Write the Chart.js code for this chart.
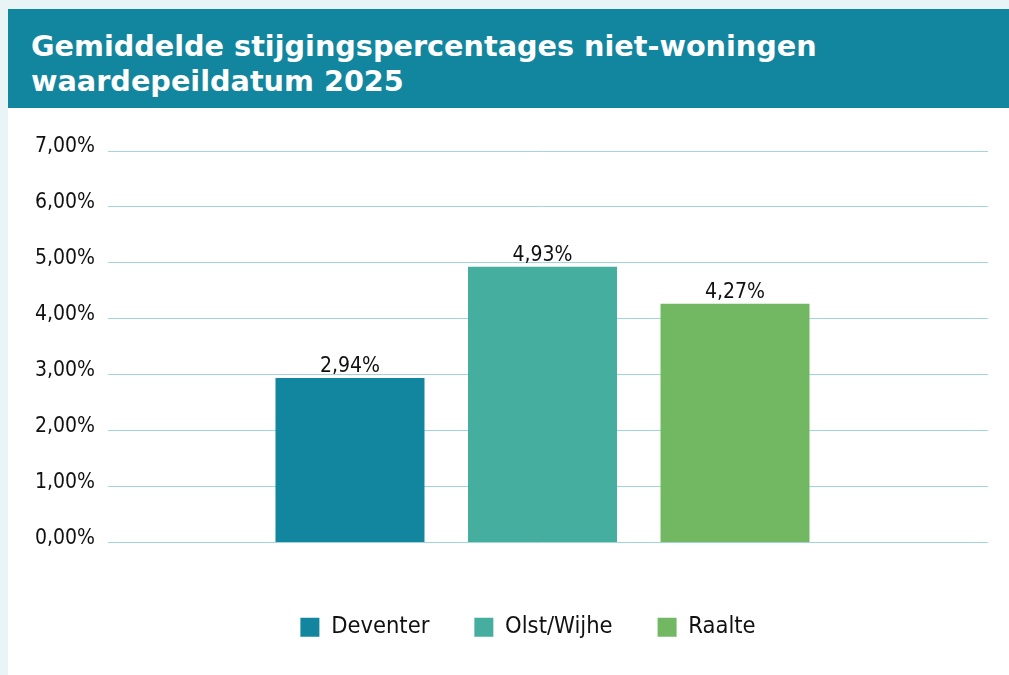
<!DOCTYPE html>
<html>
<head>
<meta charset="utf-8">
<script src="https://cdn.jsdelivr.net/npm/chart.js@4/dist/chart.umd.min.js"></script>
<style>
  body { margin: 0; background: #e9f4f6; width: 1009px; height: 675px; overflow: hidden; }
  #title {
    position: absolute; left: 8px; top: 9px; width: 978px; height: 79px;
    padding: 20px 0 0 23px; background: #12869e; color: #fff;
    font-family: "DejaVu Sans", sans-serif; font-weight: bold; font-size: 28.7px; line-height: 35px;
  }
  #wrap { position: absolute; left: 8px; top: 108px; width: 1001px; height: 567px; background: #fff; }
</style>
</head>
<body>
<div id="title">Gemiddelde stijgingspercentages niet-woningen<br>waardepeildatum 2025</div>
<div id="wrap"><canvas id="chart" width="1001" height="567"></canvas></div>
<script>
  // Data
  const municipalities = ["Deventer", "Olst/Wijhe", "Raalte"];
  const increases = [2.94, 4.93, 4.27];
  const colors = ["#12869e", "#46ae9e", "#72b862"];
  const yTicks = [0, 1, 2, 3, 4, 5, 6, 7];

  const fmt = v => v.toFixed(2).replace(".", ",") + "%";
  const gridColor = "#9fd5de";

  // draws the value above each bar
  const valueLabels = {
    id: "valueLabels",
    afterDatasetsDraw(chart) {
      const ctx = chart.ctx;
      ctx.save();
      ctx.font = '21px "DejaVu Sans Condensed", sans-serif';
      ctx.fillStyle = "#111";
      ctx.textAlign = "center";
      ctx.textBaseline = "bottom";
      chart.data.datasets.forEach((ds, i) => {
        const bar = chart.getDatasetMeta(i).data[0];
        ctx.fillText(fmt(ds.data[0]), bar.x, bar.y - 1);
      });
      ctx.restore();
    }
  };

  // legend in the original sits a bit right of the canvas centre
  const shiftLegend = {
    id: "shiftLegend",
    afterLayout(chart) {
      chart.legend.left += 30;
      chart.legend.right += 30;
    }
  };

  new Chart(document.getElementById("chart"), {
    type: "bar",
    data: {
      labels: [""],
      datasets: municipalities.map((name, i) => ({
        label: name,
        data: [increases[i]],
        backgroundColor: colors[i],
        categoryPercentage: 0.6646,
        barPercentage: 0.774
      }))
    },
    options: {
      responsive: false,
      devicePixelRatio: 1,
      animation: false,
      layout: { padding: { top: 43, right: 21, bottom: 26, left: 0 } },
      scales: {
        x: {
          grid: { display: false },
          border: { display: false },
          ticks: { display: false },
          afterFit: s => { s.height = 28; }
        },
        y: {
          min: 0,
          max: 7,
          afterBuildTicks: s => { s.ticks = yTicks.map(v => ({ value: v })); },
          afterFit: s => { s.width = 100; },
          grid: { color: gridColor, lineWidth: 1, drawTicks: false },
          border: { display: false },
          ticks: {
            padding: 13,
            labelOffset: -4,
            color: "#111",
            font: { family: '"DejaVu Sans Condensed", sans-serif', size: 21 },
            callback: v => fmt(v)
          }
        },
        // right-hand axis only carries the gridlines a little past the bars' area
        y2: {
          position: "right",
          min: 0,
          max: 7,
          afterBuildTicks: s => { s.ticks = yTicks.map(v => ({ value: v })); },
          afterFit: s => { s.width = 11; },
          grid: { color: gridColor, lineWidth: 1, drawOnChartArea: false, drawTicks: true, tickLength: 11 },
          border: { display: false },
          ticks: { display: false }
        }
      },
      plugins: {
        legend: {
          position: "bottom",
          labels: {
            boxWidth: 19,
            boxHeight: 19,
            padding: 45,
            color: "#111",
            font: { family: '"DejaVu Sans Condensed", sans-serif', size: 23.5 }
          }
        },
        tooltip: { enabled: false }
      }
    },
    plugins: [valueLabels, shiftLegend]
  });
</script>
</body>
</html>
